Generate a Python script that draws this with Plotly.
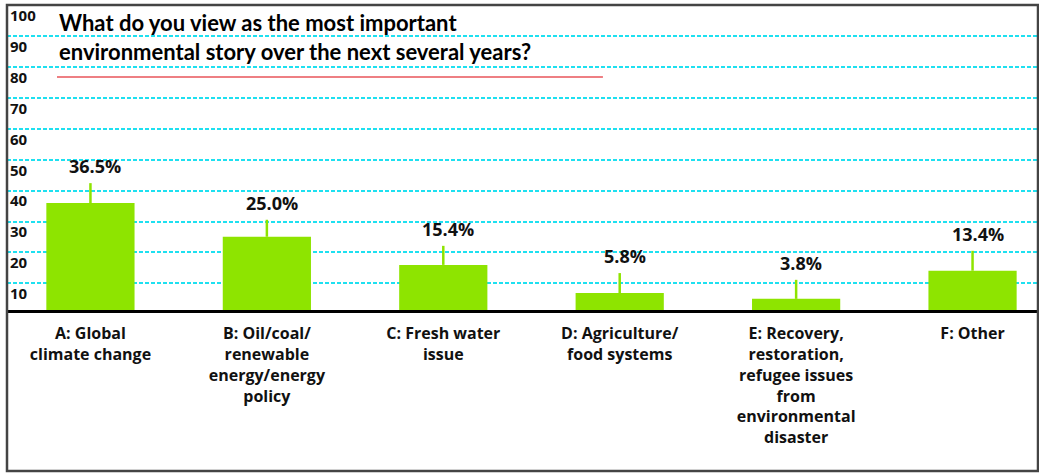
import plotly.graph_objects as go

categories = [
    "A: Global<br>climate change",
    "B: Oil/coal/<br>renewable<br>energy/energy<br>policy",
    "C: Fresh water<br>issue",
    "D: Agriculture/<br>food systems",
    "E: Recovery,<br>restoration,<br>refugee issues<br>from<br>environmental<br>disaster",
    "F: Other",
]
values = [36.5, 25.0, 15.4, 5.8, 3.8, 13.4]
errors = [6.8, 5.8, 6.5, 6.8, 6.5, 6.8]
value_labels = ["36.5%", "25.0%", "15.4%", "5.8%", "3.8%", "13.4%"]
title_text = "What do you view as the most important<br>environmental story over the next several years?"

FONT = "Lato"
FONT2 = "Open Sans"
GREEN = "#8EE400"

fig = go.Figure()
# invisible helper so the gridline/tick axis is drawn
fig.add_trace(go.Scatter(x=categories, y=values, yaxis="y2", mode="markers",
                         marker=dict(opacity=0), hoverinfo="skip"))
fig.add_trace(go.Bar(
    x=categories, y=values, width=0.5,
    marker=dict(color=GREEN, line=dict(width=0)),
    error_y=dict(type="data", symmetric=False, array=errors,
                 arrayminus=[0] * len(values), color=GREEN,
                 thickness=2.5, width=0),
    yaxis="y", hoverinfo="skip",
))

for c, v, e, t in zip(categories, values, errors, value_labels):
    fig.add_annotation(x=c, y=v + e, xref="x", yref="y", text=t,
                       showarrow=False, yanchor="bottom", xanchor="center",
                       yshift=3, xshift=5,
                       font=dict(family=FONT2, size=18, color="#111", weight="bold"))

fig.add_annotation(xref="paper", yref="paper", x=0.0485, y=0.993,
                   xanchor="left", yanchor="top", align="left",
                   text=title_text, showarrow=False,
                   font=dict(family=FONT, size=22, color="#000", weight="bold"))

fig.add_shape(type="line", xref="paper", yref="paper",
              x0=0.0485, x1=0.578, y0=0.764, y1=0.764,
              line=dict(color="#E8555A", width=1.5))

fig.add_shape(type="rect", xref="paper", yref="paper",
              x0=0, x1=1, y0=-0.528, y1=1.0,
              line=dict(color="#444", width=2.5), layer="above")

fig.update_layout(
    width=1039, height=473,
    margin=dict(l=7, r=1, t=5, b=163),
    paper_bgcolor="white", plot_bgcolor="white",
    showlegend=False,
    bargap=0.5,
    xaxis=dict(
        type="category", range=[-0.473, 5.371],
        showline=True, linecolor="#000", linewidth=3,
        showgrid=False, ticks="", ticklabelstandoff=7,
        tickfont=dict(family=FONT2, size=16, color="#111", weight="bold"),
    ),
    yaxis=dict(range=[0, 104.1], showgrid=False, showticklabels=False,
               zeroline=False, showline=False),
    yaxis2=dict(overlaying="y", side="left", range=[1.32, 100.2],
                dtick=10, tick0=0, showgrid=True, gridcolor="#1EE0F0",
                griddash="4px,2px", gridwidth=1.5, zeroline=False,
                showline=False, ticks="",
                ticklabelposition="inside bottom",
                tickfont=dict(family=FONT2, size=15, color="#111", weight="bold")),
)

fig.write_html("out.html")
